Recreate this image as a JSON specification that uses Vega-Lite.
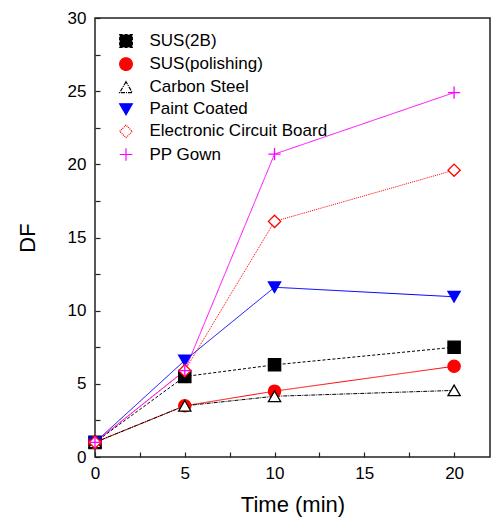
{
  "$schema": "https://vega.github.io/schema/vega-lite/v6.json",
  "width": 395,
  "height": 439,
  "autosize": "none",
  "padding": {"left": 95, "top": 18, "right": 1, "bottom": 60},
  "background": "white",
  "config": {
    "font": "Liberation Sans",
    "view": {"stroke": "#222222", "strokeWidth": 1.5},
    "axis": {
      "domain": false,
      "ticks": true,
      "tickColor": "#222222",
      "tickWidth": 1.2,
      "grid": false,
      "labelFont": "Liberation Sans",
      "labelFontSize": 17,
      "labelColor": "black",
      "titleFont": "Liberation Sans",
      "titleFontSize": 22,
      "titleFontWeight": "normal",
      "titleColor": "black"
    }
  },
  "data": {
    "values": [
      {"series": "SUS(2B)", "time": 0, "df": 1.0},
      {"series": "SUS(2B)", "time": 5, "df": 5.5},
      {"series": "SUS(2B)", "time": 10, "df": 6.3},
      {"series": "SUS(2B)", "time": 20, "df": 7.5},
      {"series": "SUS(polishing)", "time": 0, "df": 1.0},
      {"series": "SUS(polishing)", "time": 5, "df": 3.5},
      {"series": "SUS(polishing)", "time": 10, "df": 4.5},
      {"series": "SUS(polishing)", "time": 20, "df": 6.2},
      {"series": "Carbon Steel", "time": 0, "df": 1.0},
      {"series": "Carbon Steel", "time": 5, "df": 3.5},
      {"series": "Carbon Steel", "time": 10, "df": 4.15},
      {"series": "Carbon Steel", "time": 20, "df": 4.55},
      {"series": "Paint Coated", "time": 0, "df": 1.0},
      {"series": "Paint Coated", "time": 5, "df": 6.6},
      {"series": "Paint Coated", "time": 10, "df": 11.6},
      {"series": "Paint Coated", "time": 20, "df": 10.95},
      {"series": "Electronic Circuit Board", "time": 0, "df": 1.0},
      {"series": "Electronic Circuit Board", "time": 5, "df": 5.9},
      {"series": "Electronic Circuit Board", "time": 10, "df": 16.1},
      {"series": "Electronic Circuit Board", "time": 20, "df": 19.6},
      {"series": "PP Gown", "time": 0, "df": 1.0},
      {"series": "PP Gown", "time": 5, "df": 5.9},
      {"series": "PP Gown", "time": 10, "df": 20.7},
      {"series": "PP Gown", "time": 20, "df": 24.9}
    ]
  },
  "encoding": {
    "x": {
      "field": "time", "type": "quantitative",
      "scale": {"domain": [0, 22], "nice": false, "zero": false},
      "axis": {
        "orient": "bottom",
        "title": "Time (min)",
        "titlePadding": 13,
        "values": [0, 2.5, 5, 7.5, 10, 12.5, 15, 17.5, 20],
        "labelExpr": "datum.value % 5 === 0 ? datum.label : ''",
        "tickSize": 5,
        "offset": -5,
        "zindex": 1,
        "labelPadding": 8,
        "labelFlush": false
      }
    },
    "y": {
      "field": "df", "type": "quantitative",
      "scale": {"domain": [0, 30], "nice": false},
      "axis": {
        "orient": "left",
        "title": "DF",
        "titlePadding": 28,
        "values": [0, 2.5, 5, 7.5, 10, 12.5, 15, 17.5, 20, 22.5, 25, 27.5, 30],
        "labelExpr": "datum.value % 5 === 0 ? datum.label : ''",
        "tickSize": 5,
        "offset": -5,
        "zindex": 1,
        "labelPadding": 9,
        "labelFlush": false
      }
    },
    "color": {
      "field": "series", "type": "nominal",
      "title": null,
      "scale": {
        "domain": ["SUS(2B)", "SUS(polishing)", "Carbon Steel", "Paint Coated", "Electronic Circuit Board", "PP Gown"],
        "range": ["#000000", "#ff0000", "#000000", "#0000ff", "#ff0000", "#ff00ff"]
      },
      "legend": {
        "orient": "none",
        "legendX": 22.5,
        "legendY": 14.5,
        "padding": 0,
        "symbolSize": 160,
        "symbolStrokeWidth": 1.2,
        "labelFontSize": 17,
        "labelColor": "black",
        "labelFont": "Liberation Sans",
        "labelOffset": 15,
        "rowPadding": 4.1,
        "labelLimit": 300
      }
    }
  },
  "layer": [
    {
      "mark": {"type": "line", "strokeWidth": 1},
      "encoding": {
        "strokeDash": {
          "field": "series", "type": "nominal",
          "scale": {
            "domain": ["SUS(2B)", "SUS(polishing)", "Carbon Steel", "Paint Coated", "Electronic Circuit Board", "PP Gown"],
            "range": [[3, 2], [1, 0], [4, 1, 1, 1], [1, 0], [1, 1], [1, 0]]
          },
          "legend": null
        }
      }
    },
    {
      "mark": {"type": "point", "opacity": 1, "strokeWidth": 1.3, "size": 150},
      "encoding": {
        "fill": {
          "field": "series", "type": "nominal",
          "title": null,
          "scale": {
            "domain": ["SUS(2B)", "SUS(polishing)", "Carbon Steel", "Paint Coated", "Electronic Circuit Board", "PP Gown"],
            "range": ["#000000", "#ff0000", "#ffffff", "#0000ff", "#ffffff", "transparent"]
          }
        },
        "shape": {
          "field": "series", "type": "nominal",
          "title": null,
          "scale": {
            "domain": ["SUS(2B)", "SUS(polishing)", "Carbon Steel", "Paint Coated", "Electronic Circuit Board", "PP Gown"],
            "range": ["square", "circle", "triangle-up", "triangle-down", "diamond", "M-1,0L1,0M0,-1L0,1"]
          }
        }
      }
    }
  ]
}
